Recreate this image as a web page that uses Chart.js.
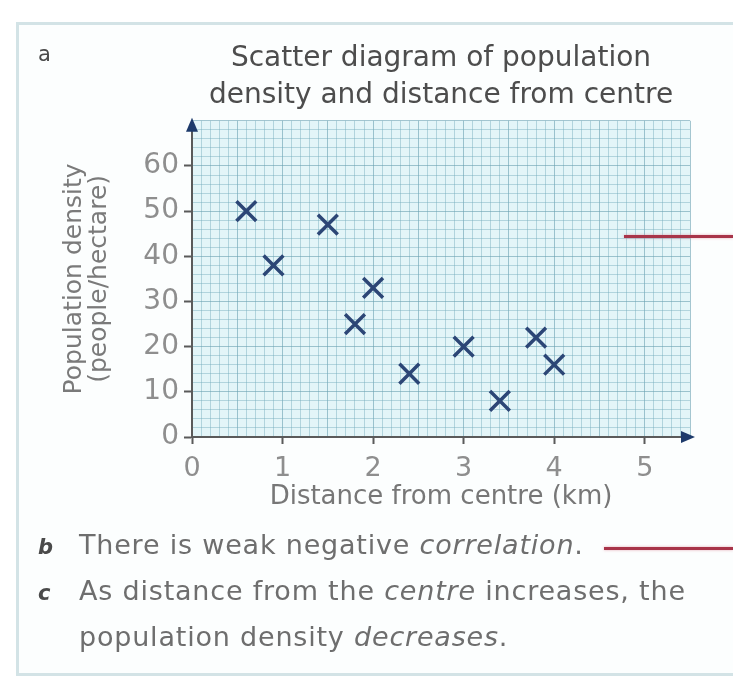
<!DOCTYPE html>
<html>
<head>
<meta charset="utf-8">
<script src="https://cdn.jsdelivr.net/npm/chart.js@4.4.1/dist/chart.umd.min.js"></script>
<style>
  html, body { margin: 0; padding: 0; background: #ffffff; }
  body { width: 733px; height: 683px; position: relative; overflow: hidden;
         font-family: "DejaVu Sans", sans-serif; }
  .panel { position: absolute; left: 16px; top: 22px; width: 740px; height: 654px;
           border: 3px solid #d3e3e6; background: #fcfefe; box-sizing: border-box; }
  .wrap { position: absolute; left: 0; top: 0; width: 733px; height: 683px; }
  .txt { position: absolute; color: #6e6e6e; font-size: 27px; letter-spacing: 0.8px; white-space: nowrap; }
  .lbl { position: absolute; color: #4a4a4a; font-size: 21px; font-style: italic; font-weight: bold; }
  .pointer { position: absolute; height: 3px; background: #a83449;
             box-shadow: 0 0 3px rgba(220, 120, 140, 0.6); }
</style>
</head>
<body>
<div class="panel"></div>
<div class="wrap"><canvas id="scatter"></canvas></div>

<span class="lbl" style="left:38px; top:42px; font-style:normal; font-weight:normal;">a</span>
<span class="lbl" style="left:38px; top:535px;">b</span>
<span class="txt" style="left:79px; top:529px;">There is weak negative <i>correlation</i>.</span>
<span class="lbl" style="left:38px; top:581px;">c</span>
<span class="txt" style="left:79px; top:575px;">As distance from the <i>centre</i> increases, the</span>
<span class="txt" style="left:79px; top:621px;">population density <i>decreases</i>.</span>

<div class="pointer" style="left:624px; top:235px; width:109px;"></div>
<div class="pointer" style="left:604px; top:547px; width:129px;"></div>

<script>
// distance from centre (km) and population density (people/hectare)
const distanceKm = [0.6, 0.9, 1.5, 1.8, 2.0, 2.4, 3.0, 3.4, 3.8, 4.0];
const densityPerHa = [50, 38, 47, 25, 33, 14, 20, 8, 22, 16];

// labelled ticks on each axis
const xTickLabels = [0, 1, 2, 3, 4, 5];
const yTickLabels = [0, 10, 20, 30, 40, 50, 60];

const points = distanceKm.map((d, i) => ({ x: d, y: densityPerHa[i] }));

const gridMinor = 'rgba(115, 172, 188, 0.45)';
const gridMajor = 'rgba(105, 160, 176, 0.6)';
const axisInk = '#5a5a5a';
const arrowInk = '#1d3a6b';

// graph paper background + arrow heads on the axes
const graphPaper = {
    id: 'graphPaper',
    beforeDraw(chart) {
        const { ctx, chartArea: a } = chart;
        ctx.save();
        ctx.fillStyle = '#e3f5f8';
        ctx.fillRect(a.left, a.top, a.right - a.left, a.bottom - a.top);
        ctx.restore();
    },
    afterDraw(chart) {
        const { ctx, chartArea: a } = chart;
        ctx.save();
        ctx.fillStyle = arrowInk;
        ctx.beginPath();
        ctx.moveTo(a.left, a.top - 3);
        ctx.lineTo(a.left - 6, a.top + 11);
        ctx.lineTo(a.left + 6, a.top + 11);
        ctx.closePath();
        ctx.fill();
        ctx.beginPath();
        ctx.moveTo(a.right + 5, a.bottom);
        ctx.lineTo(a.right - 9, a.bottom - 6);
        ctx.lineTo(a.right - 9, a.bottom + 6);
        ctx.closePath();
        ctx.fill();
        ctx.restore();
    }
};

const isOn = (list, v) => list.some(t => Math.abs(t - v) < 1e-6);

new Chart(document.getElementById('scatter'), {
    type: 'scatter',
    data: {
        datasets: [{
            data: points,
            pointStyle: 'crossRot',
            pointRadius: 14,
            pointHoverRadius: 14,
            borderWidth: 3.5,
            borderColor: '#2c4676',
            backgroundColor: '#2c4676'
        }]
    },
    options: {
        responsive: true,
        maintainAspectRatio: false,
        animation: false,
        layout: { padding: { left: 36, right: 43, top: 0, bottom: 166 } },
        plugins: {
            legend: { display: false },
            tooltip: { enabled: false },
            title: {
                display: true,
                fullSize: false,
                text: ['Scatter diagram of population', 'density and distance from centre'],
                color: '#4d4d4d',
                font: { family: 'DejaVu Sans', size: 28, weight: 'normal', lineHeight: 1.3 },
                padding: { top: 41, bottom: 7 }
            }
        },
        scales: {
            x: {
                type: 'linear',
                min: 0,
                max: 5.5,
                afterFit: scale => { scale.height = 80; },
                border: { display: true, color: axisInk, width: 2 },
                grid: {
                    color: c => (Math.abs(c.tick.value * 2 - Math.round(c.tick.value * 2)) < 1e-6 ? gridMajor : gridMinor),
                    lineWidth: 1,
                    drawTicks: true,
                    tickLength: 7,
                    tickColor: c => (isOn(xTickLabels, c.tick.value) ? axisInk : 'transparent'),
                    tickWidth: 2
                },
                ticks: {
                    stepSize: 0.1,
                    autoSkip: false,
                    maxRotation: 0,
                    minRotation: 0,
                    padding: 9,
                    color: '#8e8e8e',
                    font: { family: 'DejaVu Sans', size: 27 },
                    callback: v => (isOn(xTickLabels, v) ? String(Math.round(v)) : '')
                },
                title: {
                    display: true,
                    text: 'Distance from centre (km)',
                    color: '#777777',
                    font: { family: 'DejaVu Sans', size: 26 },
                    padding: { top: 0, bottom: 4 }
                }
            },
            y: {
                type: 'linear',
                min: 0,
                max: 70,
                afterFit: scale => { scale.width = 156; },
                border: { display: true, color: axisInk, width: 2 },
                grid: {
                    color: c => (c.tick.value % 10 === 0 ? gridMajor : gridMinor),
                    lineWidth: 1,
                    drawTicks: true,
                    tickLength: 8,
                    tickColor: c => (isOn(yTickLabels, c.tick.value) ? axisInk : 'transparent'),
                    tickWidth: 2
                },
                ticks: {
                    stepSize: 2,
                    autoSkip: false,
                    padding: 5,
                    color: '#8e8e8e',
                    font: { family: 'DejaVu Sans', size: 28 },
                    callback: v => (isOn(yTickLabels, v) ? String(v) : '')
                },
                title: {
                    display: true,
                    text: ['Population density', '(people/hectare)'],
                    color: '#7a7a7a',
                    font: { family: 'DejaVu Sans', size: 25, lineHeight: 1.0 },
                    padding: { top: 26, bottom: 0 }
                }
            }
        }
    },
    plugins: [graphPaper]
});
</script>
</body>
</html>
